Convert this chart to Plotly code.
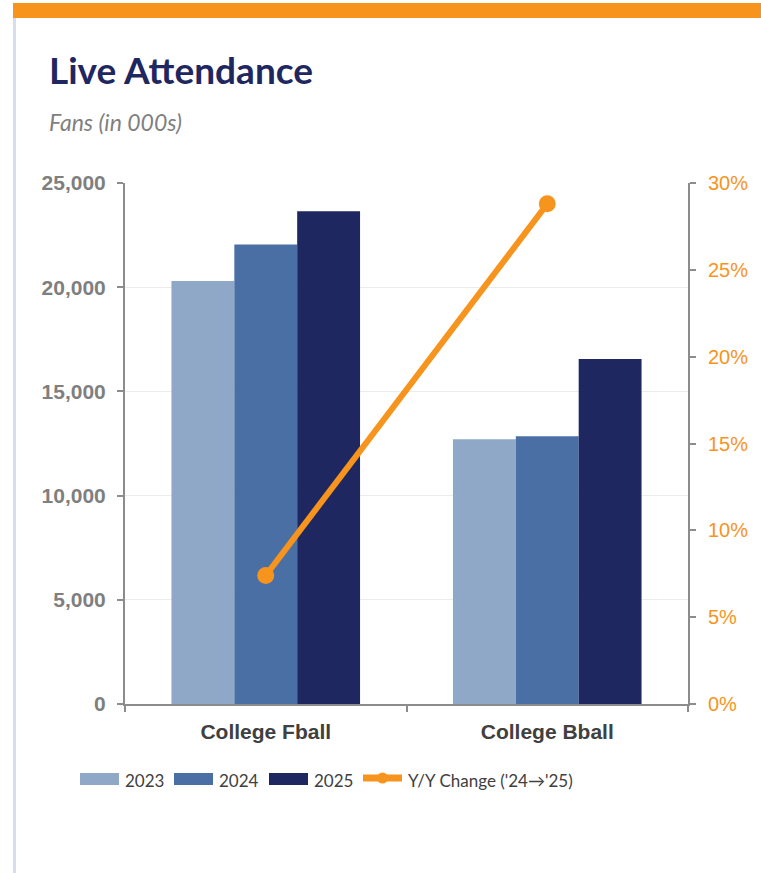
import plotly.graph_objects as go

# ---- data ----
categories = ["College Fball", "College Bball"]
years = ["2023", "2024", "2025"]
att_2023 = [20300, 12700]
att_2024 = [22050, 12850]
att_2025 = [23650, 16550]
yoy_change = [0.074, 0.288]
yoy_label = "Y/Y Change ('24\u2192'25)"
left_ticks = [0, 5000, 10000, 15000, 20000, 25000]
right_ticks = [0, 0.05, 0.10, 0.15, 0.20, 0.25, 0.30]

bar_colors = ["#8FA8C8", "#4A6FA5", "#1F2761"]
orange = "#F7941D"

W, H = 761, 873
L, R, T, B = 125, 688, 183, 704  # plot area in pixels


def px(x):
    return (x - L) / (R - L)


def py(y):
    return (B - y) / (B - T)


fig = go.Figure()
for name, vals, col in zip(years, [att_2023, att_2024, att_2025], bar_colors):
    fig.add_trace(go.Bar(x=categories, y=vals, name=name, marker=dict(color=col, line=dict(width=0)),
                         showlegend=False))

fig.add_trace(go.Scatter(x=categories, y=yoy_change, name=yoy_label, yaxis="y2",
                         mode="lines+markers", line=dict(color=orange, width=6),
                         marker=dict(color=orange, size=17), showlegend=False))

shapes = []
annotations = []
# top orange band and left border
shapes.append(dict(type="rect", xref="paper", yref="paper", x0=px(13), x1=px(770), y0=py(18), y1=py(3),
                   fillcolor=orange, line=dict(width=0), layer="above"))
shapes.append(dict(type="rect", xref="paper", yref="paper", x0=px(13), x1=px(16), y0=py(880), y1=py(18),
                   fillcolor="#D9DCEC", line=dict(width=0), layer="above"))

# title and subtitle
annotations.append(dict(text="<b>Live Attendance</b>", xref="paper", yref="paper", x=px(47), y=py(70),
                        xanchor="left", yanchor="middle", showarrow=False,
                        font=dict(family="Lato", size=37, color="#1F2761")))
annotations.append(dict(text="<i>Fans (in 000s)</i>", xref="paper", yref="paper", x=px(47), y=py(122),
                        xanchor="left", yanchor="middle", showarrow=False,
                        font=dict(family="Lato", size=23, color="#7F7F7F")))

# custom legend
leg_y = 779
leg_font = dict(family="Lato", size=17, color="#404040")
rect_x = [80, 174, 269]
for name, col, x0 in zip(years, bar_colors, rect_x):
    shapes.append(dict(type="rect", xref="paper", yref="paper", x0=px(x0), x1=px(x0 + 39),
                       y0=py(leg_y + 6), y1=py(leg_y - 6), fillcolor=col, line=dict(width=0)))
    annotations.append(dict(text=name, xref="paper", yref="paper", x=px(x0 + 43), y=py(leg_y + 1),
                            xanchor="left", yanchor="middle", showarrow=False, font=leg_font))
shapes.append(dict(type="line", xref="paper", yref="paper", x0=px(363), x1=px(402),
                   y0=py(leg_y - 1), y1=py(leg_y - 1), line=dict(color=orange, width=7)))
shapes.append(dict(type="circle", xref="paper", yref="paper", x0=px(377), x1=px(388),
                   y0=py(leg_y + 4.5), y1=py(leg_y - 6.5), fillcolor=orange, line=dict(width=0)))
annotations.append(dict(text=yoy_label, xref="paper", yref="paper", x=px(406), y=py(leg_y + 1),
                        xanchor="left", yanchor="middle", showarrow=False, font=leg_font))

axis_gray = "#8C8C8C"
fig.update_layout(
    width=W, height=H,
    margin=dict(l=L, r=W - R, t=T, b=H - B, pad=0),
    paper_bgcolor="white", plot_bgcolor="white",
    barmode="group", bargap=0.33, bargroupgap=0,
    showlegend=False,
    shapes=shapes, annotations=annotations,
    xaxis=dict(type="category", showline=True, linecolor=axis_gray, linewidth=2,
               ticks="outside", tickson="boundaries", ticklen=6, tickcolor=axis_gray, tickwidth=2,
               ticklabelstandoff=8,
               tickfont=dict(family="Liberation Sans", size=21, color="#404040", weight="bold"),
               showgrid=False),
    yaxis=dict(range=[0, 25000], tickvals=left_ticks, tickformat=",", showline=True,
               linecolor=axis_gray, linewidth=2, ticks="outside", ticklen=6, tickcolor=axis_gray,
               tickwidth=2, showgrid=True, gridcolor="#ECECEC", gridwidth=1, zeroline=False,
               ticklabelstandoff=7,
               tickfont=dict(family="Liberation Sans", size=21, color="#7F7F7F", weight="bold")),
    yaxis2=dict(range=[0, 0.30], tickvals=right_ticks, tickformat=".0%", overlaying="y", side="right",
                showline=True, linecolor=axis_gray, linewidth=2, ticks="outside", ticklen=6,
                tickcolor=axis_gray, tickwidth=2, showgrid=False, zeroline=False,
                ticklabelstandoff=8,
                tickfont=dict(family="Liberation Sans", size=20, color=orange)),
)

fig.write_html("out.html", config={"displayModeBar": False},
               post_script="document.body.style.margin='0px';document.body.style.overflow='hidden';")
